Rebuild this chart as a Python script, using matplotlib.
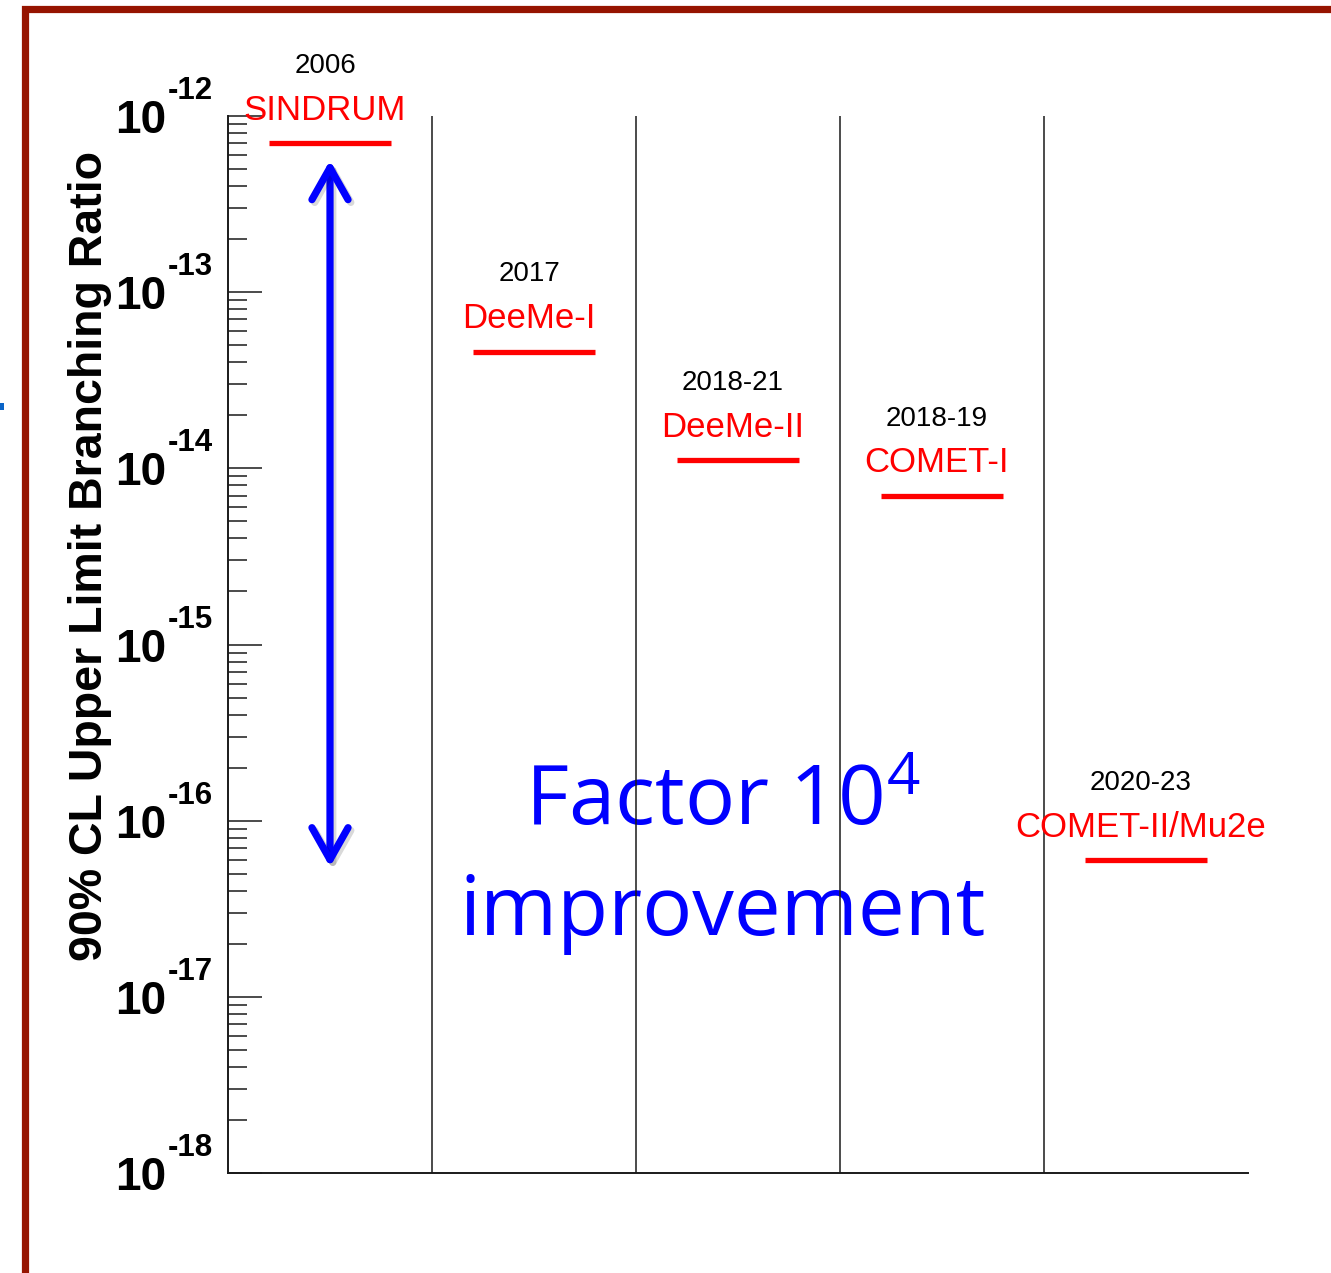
import matplotlib
matplotlib.use("Agg")
import matplotlib.pyplot as plt
import matplotlib.patheffects as pe
from matplotlib.patches import Rectangle, FancyArrowPatch
from matplotlib.ticker import LogLocator, FixedLocator, FixedFormatter, NullFormatter
from matplotlib.transforms import ScaledTranslation
import numpy as np

# Experiments and their 90% CL upper limits on the branching ratio
experiments = ["SINDRUM", "DeeMe-I", "DeeMe-II", "COMET-I", "COMET-II/Mu2e"]
years = ["2006", "2017", "2018-21", "2018-19", "2020-23"]
limits = [7e-13, 4.6e-14, 1.12e-14, 7e-15, 6e-17]

decades = [-18, -17, -16, -15, -14, -13, -12]
ylabel = "90% CL Upper Limit Branching Ratio"
note_line1 = r"Factor 10$^{4}$"
note_line2 = "improvement"

plt.rcParams["font.family"] = ["Liberation Sans", "DejaVu Sans"]
plt.rcParams["mathtext.fontset"] = "custom"
plt.rcParams["mathtext.rm"] = "Open Sans"
plt.rcParams["mathtext.it"] = "Open Sans"
plt.rcParams["mathtext.bf"] = "Open Sans:bold"

W, H = 1331, 1273
fig = plt.figure(figsize=(W / 100, H / 100), dpi=100)
fig.patch.set_facecolor("white")
ax = fig.add_axes([228 / W, 1 - 1173 / H, 1020 / W, 1057 / H])

# dark red slide frame
fig.patches.append(Rectangle((25.5 / W, -0.2), 1.5, 1.2 - 9.5 / H,
                             transform=fig.transFigure, fill=False,
                             edgecolor="#961400", lw=5.2, clip_on=False))
fig.patches.append(Rectangle((0, 1 - 410 / H), 4 / W, 7 / H,
                             transform=fig.transFigure, facecolor="#0a64c8",
                             edgecolor="none"))

ax.set_yscale("log")
ax.set_ylim(10.0 ** decades[0], 10.0 ** decades[-1])
ax.set_xlim(0, len(experiments))

for side in ("top", "right"):
    ax.spines[side].set_visible(False)
for side in ("left", "bottom"):
    ax.spines[side].set_linewidth(1.4)
    ax.spines[side].set_color("#1a1a1a")

ax.set_xticks([])
ax.yaxis.set_major_locator(FixedLocator([10.0 ** d for d in decades]))
ax.yaxis.set_minor_locator(LogLocator(base=10, subs=np.arange(2, 10)))
ax.yaxis.set_minor_formatter(NullFormatter())
# mantissa "10" as the tick label, exponent drawn as a raised superscript
ax.yaxis.set_major_formatter(FixedFormatter(["10"] * len(decades)))
ax.tick_params(axis="y", which="major", direction="in", length=24.5, width=1.1,
               pad=44.6, labelsize=33, color="#1a1a1a")
ax.tick_params(axis="y", which="minor", direction="in", length=14, width=1.1,
               color="#1a1a1a")
for lab in ax.get_yticklabels():
    lab.set_fontweight("bold")
    lab.set_verticalalignment("baseline")
    lab.set_transform(lab.get_transform()
                      + ScaledTranslation(0, -0.17, fig.dpi_scale_trans))

ytrans = ax.get_yaxis_transform()
for d in decades:
    ax.annotate("-%d" % abs(d), xy=(0, 10.0 ** d), xycoords=ytrans,
                xytext=(-43.2, 12.2), textcoords="offset points",
                ha="left", va="baseline", fontsize=22.5, fontweight="bold",
                annotation_clip=False)

# column separators
for i in range(1, len(experiments)):
    ax.axvline(i, color="#1a1a1a", lw=1.1, zorder=3)

# limit bars with labels
for i, (name, yr, lim) in enumerate(zip(experiments, years, limits)):
    ax.hlines(lim, i + 0.2, i + 0.8, color="#ff0000", lw=3.8, zorder=4)
    ax.annotate(name, xy=(i + 0.5, lim), xytext=(-3.6, 23.5),
                textcoords="offset points", ha="center", va="center",
                color="#ff0000", fontsize=25, zorder=5)
    ax.annotate(yr, xy=(i + 0.5, lim), xytext=(-3.6, 55.5),
                textcoords="offset points", ha="center", va="center",
                color="black", fontsize=20, zorder=5)

# double-headed arrow spanning the improvement
arrow = FancyArrowPatch((0.5, limits[0] * 0.80), (0.5, limits[-1] * 0.91),
                        arrowstyle="<->,head_length=1.15,head_width=0.65",
                        mutation_scale=20, color="#0000ff", lw=5.2,
                        shrinkA=0, shrinkB=0, capstyle="round",
                        joinstyle="round", zorder=6)
arrow.set_path_effects([pe.SimpleLineShadow(offset=(2, -2), alpha=0.15),
                        pe.Normal()])
ax.add_patch(arrow)

ax.text(0.485, 0.329, note_line1, transform=ax.transAxes, ha="center",
        va="baseline", color="#0000ff", fontsize=60, family="Open Sans",
        zorder=2)
ax.text(0.485, 0.225, note_line2, transform=ax.transAxes, ha="center",
        va="baseline", color="#0000ff", fontsize=60, family="Open Sans",
        zorder=2)

fig.text(90 / W, 1 - 556 / H, ylabel, rotation=90, ha="center", va="center",
         fontsize=33.5, fontweight="bold")

fig.savefig("out.png", dpi=100)
